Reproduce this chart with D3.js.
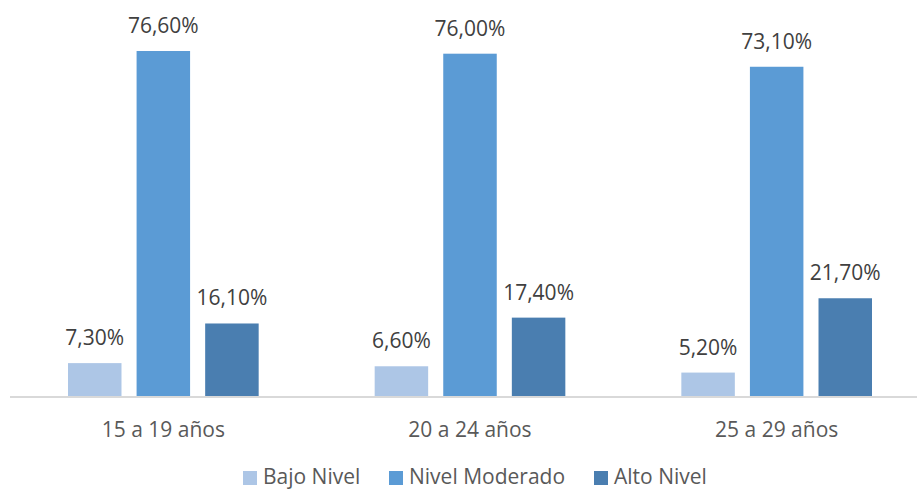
<!DOCTYPE html>
<html>
<head>
<meta charset="utf-8">
<script src="https://cdn.jsdelivr.net/npm/d3@7"></script>
<style>
  body { margin: 0; background: #fff; }
  svg { display: block; font-family: "Open Sans", "Noto Sans", sans-serif; }
</style>
</head>
<body>
<svg id="chart" width="917" height="489"></svg>
<script>
const categories = ['15 a 19 años', '20 a 24 años', '25 a 29 años'];
const seriesNames = ['Bajo Nivel', 'Nivel Moderado', 'Alto Nivel'];
const bajo = [7.3, 6.6, 5.2];
const moderado = [76.6, 76.0, 73.1];
const alto = [16.1, 17.4, 21.7];
const colors = ['#adc6e6', '#5b9bd5', '#4a7eb0'];

const seriesValues = [bajo, moderado, alto];
const fmt = v => v.toFixed(2).replace('.', ',') + '%';

const svg = d3.select('#chart');
const baseY = 396;

const x = d3.scaleBand()
  .domain(categories)
  .range([10, 930])
  .paddingInner(0)
  .paddingOuter(0);

const xs = d3.scaleBand()
  .domain(seriesNames)
  .range([58, x.bandwidth() - 58])
  .paddingInner(0.22)
  .paddingOuter(0);

const y = d3.scaleLinear()
  .domain([0, 80])
  .range([baseY, baseY - 80 * 4.504]);

// bars
const groups = svg.selectAll('.group')
  .data(categories)
  .enter().append('g')
    .attr('class', 'group')
    .attr('transform', d => `translate(${x(d)},0)`);

groups.each(function(cat, ci) {
  const g = d3.select(this);
  seriesNames.forEach((s, si) => {
    const v = seriesValues[si][ci];
    g.append('rect')
      .attr('x', xs(s))
      .attr('y', y(v))
      .attr('width', xs.bandwidth())
      .attr('height', baseY - y(v))
      .attr('fill', colors[si]);
    g.append('text')
      .attr('x', xs(s) + xs.bandwidth() / 2)
      .attr('y', y(v) - 18)
      .attr('text-anchor', 'middle')
      .attr('font-size', 21)
      .attr('fill', '#404040')
      .text(fmt(v));
  });
});

// axis line
svg.append('line')
  .attr('x1', 10).attr('x2', 930)
  .attr('y1', baseY + 1).attr('y2', baseY + 1)
  .attr('stroke', '#d9d9d9')
  .attr('stroke-width', 2);

// category labels
svg.selectAll('.cat')
  .data(categories)
  .enter().append('text')
    .attr('class', 'cat')
    .attr('x', d => x(d) + x.bandwidth() / 2)
    .attr('y', 437)
    .attr('text-anchor', 'middle')
    .attr('font-size', 21)
    .attr('fill', '#595959')
    .text(d => d);

// legend (nudged up a little so descenders stay inside the frame)
const legendX = [243, 389, 594];
const legend = svg.selectAll('.legend')
  .data(seriesNames)
  .enter().append('g')
    .attr('class', 'legend')
    .attr('transform', (d, i) => `translate(${legendX[i]},471)`);

legend.append('rect')
  .attr('width', 14).attr('height', 14)
  .attr('fill', (d, i) => colors[i]);

legend.append('text')
  .attr('x', 20)
  .attr('y', 12.5)
  .attr('font-size', 21)
  .attr('fill', '#595959')
  .text(d => d);
</script>
</body>
</html>
